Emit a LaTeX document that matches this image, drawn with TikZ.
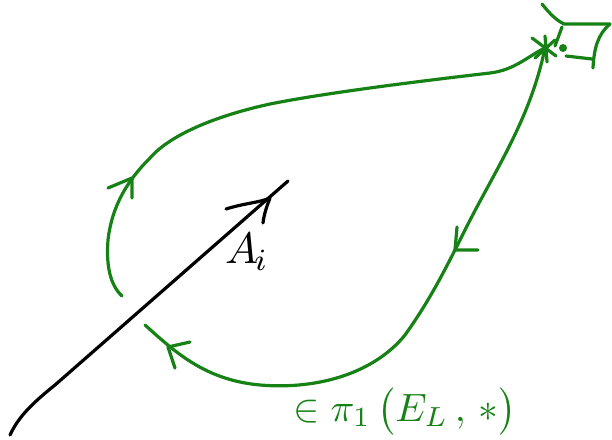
\documentclass[tikz,border=0pt]{standalone}
\usepackage{graphicx}
\usepackage{amsmath}
\definecolor{pen}{RGB}{22,130,22}
\begin{document}
\begin{tikzpicture}[x=1pt,y=-1pt,
  ink/.style={line width=3.2pt,line cap=round,line join=round},
  gink/.style={ink,draw=pen}]
\useasboundingbox (0,0) rectangle (612,439);
% black path A_i
\coordinate (b0) at (10,435);
\coordinate (b1) at (288,181);
\coordinate (btip) at (270,198);
\draw[ink] (b0) .. controls (18,418) and (30,405) .. (55,385) -- (b1);
\draw[ink] (226,209) .. controls (245,203) and (258,203) .. (btip) .. controls (266,208) and (264,215) .. (263,223);
\node[inner sep=0pt] (Ai) at (247,252) {\scalebox{4.4}{$A_{\mkern-2mu i}$}};
% base point
\coordinate (base) at (545,48);
% green loop upper part (returning to base)
\draw[gink] (base) .. controls (528,56) and (515,70) .. (490,73)
  .. controls (430,80) and (330,92) .. (270,104)
  .. controls (215,116) and (170,135) .. (150,158)
  .. controls (128,180) and (112,205) .. (108,240)
  .. controls (106,265) and (110,285) .. (122,296);
% green loop lower part (leaving base)
\draw[gink] (145,325) .. controls (175,352) and (205,380) .. (260,385)
  .. controls (320,390) and (375,372) .. (405,335)
  .. controls (430,300) and (445,270) .. (465,230)
  .. controls (495,170) and (530,120) .. (base);
% arrowheads
\coordinate (t1) at (132,178);
\draw[gink] (108,188) -- (t1) -- (132,198);
\coordinate (t2) at (455,250);
\draw[gink] (457,227) -- (t2) -- (478,250);
\coordinate (t3) at (168,347);
\draw[gink] (190,342) -- (t3) -- (175,368);
% star at base point
\draw[gink] (532,38) -- (556,56);
\draw[gink] (545,36) -- (547,62);
\draw[gink] (535,58) -- (555,40);
% small disc and box at top right
\fill[pen] (563,48) circle (4);
\draw[gink] (542,4) .. controls (550,14) and (556,20) .. (564,24) -- (610,24);
\draw[gink] (610,24) .. controls (598,34) and (594,48) .. (593,68);
\draw[gink] (562,27) -- (555,46);
\draw[gink] (566,56) -- (592,59);
% label
\node[pen,inner sep=0pt,anchor=base west] (lbl) at (293,421)
  {\scalebox{3.95}{$\in\pi_{1}\,\bigl(E_{L}\,,\,{*}\bigr)$}};
\end{tikzpicture}
\end{document}
